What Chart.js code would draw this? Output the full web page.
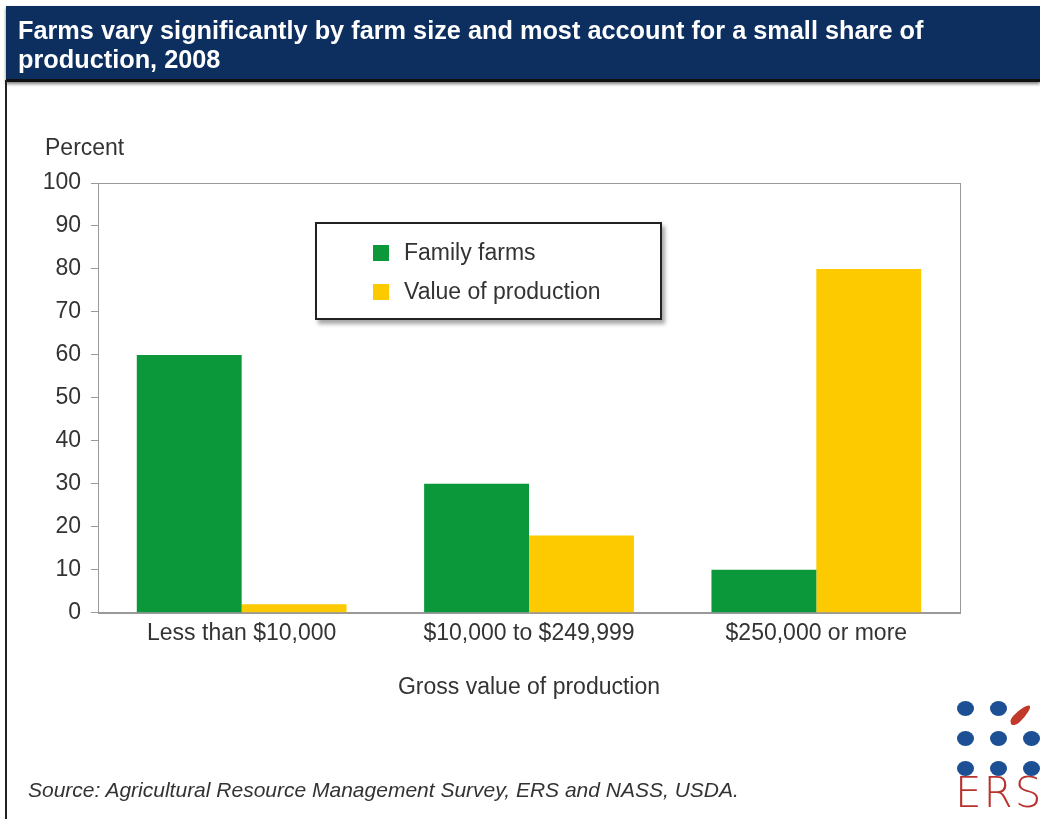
<!DOCTYPE html>
<html>
<head>
<meta charset="utf-8">
<script src="https://cdn.jsdelivr.net/npm/chart.js@4/dist/chart.umd.min.js"></script>
<style>
  html, body { margin: 0; padding: 0; background: #fff; }
  body { width: 1040px; height: 819px; position: relative; overflow: hidden;
         font-family: "Liberation Sans", Arial, sans-serif; }
  #chart { position: absolute; left: 0; top: 0; }
  .header { position: absolute; left: 6px; top: 6px; right: 0; height: 73px;
            background: #0d2f5f; border-bottom: 3px solid #111;
            box-shadow: 0 2px 3px rgba(0,0,0,0.5); }
  .header h1 { margin: 0; padding: 10px 0 0 12px; color: #fff; font-size: 25.3px;
               line-height: 29px; font-weight: bold; }
  .pageBorder { position: absolute; left: 5px; top: 80px; bottom: 0; width: 2px; background: #222; }
  .yTitle { position: absolute; left: 45px; top: 134px; font-size: 23px; color: #333; }
  .legend { position: absolute; left: 315px; top: 222px; width: 343px; height: 94px;
            border: 2px solid #222; background: #fff;
            box-shadow: 3px 4px 4px rgba(0,0,0,0.35); }
  .legend .item { position: absolute; left: 56px; font-size: 23px; color: #333; line-height: 28px; }
  .legend .swatch { display: inline-block; width: 16px; height: 16px; margin-right: 15px;
                    vertical-align: -1px; }
  .source { position: absolute; left: 28px; top: 778px; font-size: 21px; font-style: italic; color: #333; }
  .logo .dot { position: absolute; width: 17px; height: 15px; border-radius: 50%; background: #1d4f95; }
  .logo .leaf { position: absolute; left: 1016px; top: 702px; width: 9px; height: 26px;
                background: #c0392b; border-radius: 50% 50% 50% 50% / 70% 70% 30% 30%;
                transform: rotate(45deg); }
  .logo .ers { position: absolute; left: 955px; top: 768px; font-size: 42px; color: #b8332e;
               letter-spacing: 2px; font-family: "DejaVu Sans", sans-serif; font-weight: 300; }
</style>
</head>
<body>
<canvas id="chart" width="1040" height="819"></canvas>
<div class="header"><h1>Farms vary significantly by farm size and most account for a small share of<br>production, 2008</h1></div>
<div class="pageBorder"></div>
<div class="yTitle">Percent</div>
<div class="legend" id="legend"></div>
<div class="source">Source: Agricultural Resource Management Survey, ERS and NASS, USDA.</div>
<div class="logo" id="logo"><div class="leaf"></div><div class="ers">ERS</div></div>

<script>
// données du graphique
const categories = ['Less than $10,000', '$10,000 to $249,999', '$250,000 or more'];
const seriesNames = ['Family farms', 'Value of production'];
const familyFarms = [60, 30, 10];
const valueOfProduction = [2, 18, 80];
const yMin = 0, yMax = 100, yStep = 10;

const corVerde = '#0a983b';
const corAmarelo = '#fdca00';
const corEixo = '#999';
const corTexto = '#333';
const fonte = { family: '"Liberation Sans", Arial, sans-serif', size: 23 };

// moldura do gráfico (topo e direita)
const molduraPlugin = {
    id: 'moldura',
    afterDraw(chart) {
        const a = chart.chartArea, ctx = chart.ctx;
        ctx.save();
        ctx.strokeStyle = corEixo;
        ctx.lineWidth = 1;
        ctx.strokeRect(Math.round(a.left) + 0.5, Math.round(a.top) + 0.5,
                       Math.round(a.right - a.left), Math.round(a.bottom - a.top));
        ctx.restore();
    }
};

const chart = new Chart(document.getElementById('chart').getContext('2d'), {
    type: 'bar',
    data: {
        labels: categories,
        datasets: [
            { label: seriesNames[0], data: familyFarms, backgroundColor: corVerde },
            { label: seriesNames[1], data: valueOfProduction, backgroundColor: corAmarelo }
        ]
    },
    options: {
        responsive: false,
        animation: false,
        devicePixelRatio: 1,
        categoryPercentage: 0.73,
        barPercentage: 1.0,
        layout: { padding: { left: 0, top: 183, right: 80, bottom: 118 } },
        plugins: {
            legend: { display: false },
            tooltip: { enabled: false }
        },
        scales: {
            x: {
                grid: { display: true, drawOnChartArea: false, drawTicks: false, color: corEixo },
                border: { display: true, color: corEixo },
                ticks: { color: corTexto, font: fonte, padding: 7, maxRotation: 0 },
                title: { display: true, text: 'Gross value of production', color: corTexto,
                         font: fonte, padding: { top: 19, bottom: 0 } }
            },
            y: {
                min: yMin, max: yMax,
                afterFit(scale) { scale.width = 98; },
                grid: { display: true, drawOnChartArea: false, tickLength: 7, color: corEixo },
                border: { display: true, color: corEixo },
                ticks: { stepSize: yStep, color: corTexto, font: fonte, padding: 10 }
            }
        }
    },
    plugins: [molduraPlugin]
});

// legenda em HTML a partir dos datasets
const legend = document.getElementById('legend');
chart.data.datasets.forEach((ds, i) => {
    const item = document.createElement('div');
    item.className = 'item';
    item.style.top = (14 + i * 39) + 'px';
    item.innerHTML = '<span class="swatch" style="background:' + ds.backgroundColor + '"></span>' + ds.label;
    legend.appendChild(item);
});

// pontos do logo ERS
const logo = document.getElementById('logo');
[[0, 0], [1, 0], [0, 1], [1, 1], [2, 1], [0, 2], [1, 2], [2, 2]].forEach(([c, r]) => {
    const d = document.createElement('div');
    d.className = 'dot';
    d.style.left = (957 + c * 33) + 'px';
    d.style.top = (701 + r * 30) + 'px';
    logo.appendChild(d);
});
</script>
</body>
</html>
